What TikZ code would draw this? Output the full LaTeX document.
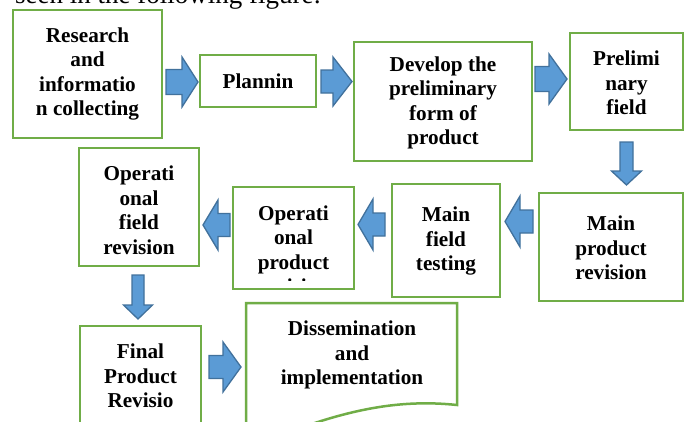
\documentclass[tikz,border=0pt]{standalone}
\usepackage{fontspec}
\setmainfont{Liberation Serif}
\definecolor{gbox}{RGB}{112,173,71}
\definecolor{afill}{RGB}{91,155,213}
\definecolor{aline}{RGB}{65,113,156}
\tikzset{
  box/.style={draw=gbox, line width=2.5pt, fill=white, inner sep=0pt},
  txt/.style={font=\fontsize{21.2}{24.5}\selectfont\bfseries, align=center, inner sep=0pt},
  blk/.style={fill=afill, draw=aline, line width=1.3pt, line join=miter}
}
% right arrow: x1 shaft start, xb head base, x2 tip, yc, shaft half, head half
\newcommand{\RArr}[6]{\draw[blk] (#1,#4-#5) -- (#2,#4-#5) -- (#2,#4-#6) -- (#3,#4) -- (#2,#4+#6) -- (#2,#4+#5) -- (#1,#4+#5) -- cycle;}
% down arrow: y1 shaft start, yb head base, y2 tip, xc, shaft half, head half
\newcommand{\DArr}[6]{\draw[blk] (#4-#5,#1) -- (#4-#5,#2) -- (#4-#6,#2) -- (#4,#3) -- (#4+#6,#2) -- (#4+#5,#2) -- (#4+#5,#1) -- cycle;}
\begin{document}
\begin{tikzpicture}[x=1pt,y=-1pt]
\useasboundingbox (0,0) rectangle (687,421);
\clip (0,0) rectangle (687,421);
\fill[white] (0,0) rectangle (687,421);
% top caption (cut off at the top edge, as in the reference)
\node[anchor=base west, inner sep=0pt, font=\fontsize{27}{30}\selectfont] (cap) at (15,3) {seen in the following figure:};

% boxes
\node[box, minimum width=149pt, minimum height=128pt] (b1) at (87.5,74) {};
\node[txt] (t1) at (87.5,74) {Research\\and\\informatio\\n collecting};

\node[box, minimum width=116pt, minimum height=52pt] (b2) at (258,81) {};
\node[txt] (t2) at (258,81) {Plannin};

\node[box, minimum width=178pt, minimum height=119pt] (b3) at (443,101.5) {};
\node[txt] (t3) at (443,103) {Develop the\\preliminary\\form of\\product};

\node[box, minimum width=113pt, minimum height=97pt] (b4) at (626.5,81.5) {};
\node[txt] (t4) at (626.5,83) {Prelimi\\nary\\field};

\node[box, minimum width=144pt, minimum height=108pt] (b5) at (611,247) {};
\node[txt] (t5) at (611,248) {Main\\product\\revision};

\node[box, minimum width=108pt, minimum height=113pt] (b6) at (446,240.5) {};
\node[txt] (t6) at (446,241) {Main\\field\\testing};

\node[box, minimum width=121pt, minimum height=102pt] (b7) at (293.5,238) {};
\begin{scope}
  \clip (235,189) rectangle (352,280);
  \node[txt] (t7) at (293.5,249.5) {Operati\\onal\\product\\revision};
\end{scope}

\node[box, minimum width=120pt, minimum height=118pt] (b8) at (139,207) {};
\node[txt] (t8) at (139,210) {Operati\\onal\\field\\revision};

\node[box, minimum width=121pt, minimum height=130pt] (b9) at (140.5,391) {};
\node[txt] (t9) at (140.5,376) {Final\\Product\\Revisio};

\draw[box] (246,450) -- (246,303) -- (457,303) -- (457,405)
  .. controls (400,399) and (340,408) .. (246,450);
\coordinate (b10) at (351.5,360);
\node[txt] (t10) at (352,355) {Dissemination\\and\\implementation};

% block arrows
\RArr{166}{182}{198}{82}{12.5}{25}
\RArr{321}{333}{352}{81.5}{11.5}{24.5}
\RArr{535}{549}{567}{79}{12.5}{25}
\DArr{142}{171}{185}{626.5}{6.5}{15}
\RArr{533}{520}{505}{221.5}{11.5}{25.5}
\RArr{385}{373}{358}{224.5}{11.5}{25.5}
\RArr{230}{218}{203}{225}{11.5}{25}
\DArr{275}{305}{319}{138}{6}{14.5}
\RArr{209}{223}{241}{367}{11.5}{25}
\end{tikzpicture}
\end{document}
